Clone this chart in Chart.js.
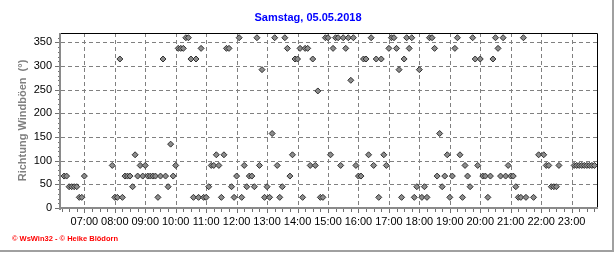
<!DOCTYPE html>
<html>
<head>
<meta charset="utf-8">
<script src="https://cdn.jsdelivr.net/npm/chart.js@4"></script>
<style>
  html, body { margin: 0; padding: 0; background: #fff; }
  canvas { display: block; }
</style>
</head>
<body>
<canvas id="chart" width="616" height="253"></canvas>
<script>
const chartTitle = 'Samstag, 05.05.2018';
const yTitle = 'Richtung Windböen  (°)';
const credits = '© WsWin32 - © Heike Blödorn';

// reading times (HH:MM) and gust directions in degrees
const times = [
  '06:20', '06:25', '06:30', '06:35', '06:40', '06:45', '06:50', '06:55',
  '07:00', '07:55',
  '08:00', '08:05', '08:10', '08:15', '08:20', '08:25', '08:30', '08:35', '08:40', '08:45', '08:50', '08:55',
  '09:00', '09:05', '09:10', '09:15', '09:20', '09:25', '09:30', '09:35', '09:40', '09:45', '09:50', '09:55',
  '10:00', '10:05', '10:10', '10:15', '10:20', '10:25', '10:30', '10:35', '10:40', '10:45', '10:50', '10:55',
  '11:00', '11:05', '11:10', '11:15', '11:20', '11:25', '11:30', '11:35', '11:40', '11:45', '11:50', '11:55',
  '12:00', '12:05', '12:10', '12:15', '12:20', '12:25', '12:30', '12:35', '12:40', '12:45', '12:50', '12:55',
  '13:00', '13:05', '13:10', '13:15', '13:20', '13:25', '13:30', '13:35', '13:40', '13:45', '13:50', '13:55',
  '14:00', '14:05', '14:10', '14:15', '14:20', '14:25', '14:30', '14:35', '14:40', '14:45', '14:50', '14:55',
  '15:00', '15:05', '15:10', '15:15', '15:20', '15:25', '15:30', '15:35', '15:40', '15:45', '15:50', '15:55',
  '16:00', '16:05', '16:10', '16:15', '16:20', '16:25', '16:30', '16:35', '16:40', '16:45', '16:50', '16:55',
  '17:00', '17:05', '17:10', '17:15', '17:20', '17:25', '17:30', '17:35', '17:40', '17:45', '17:50', '17:55',
  '18:00', '18:05', '18:10', '18:15', '18:20', '18:25', '18:30', '18:35', '18:40', '18:45', '18:50', '18:55',
  '19:00', '19:05', '19:10', '19:15', '19:20', '19:25', '19:30', '19:35', '19:40', '19:45', '19:50', '19:55',
  '20:00', '20:05', '20:10', '20:15', '20:20', '20:25', '20:30', '20:35', '20:40', '20:45', '20:50', '20:55',
  '21:00', '21:05', '21:10', '21:15', '21:20', '21:25', '21:30', '21:45', '21:55',
  '22:05', '22:10', '22:15', '22:20', '22:25', '22:30', '22:35',
  '23:05', '23:10', '23:15', '23:20', '23:25', '23:30', '23:35', '23:40', '23:45'
];

const directions = [
  67.5, 67.5, 45, 45, 45, 45, 22.5, 22.5,
  67.5, 90,
  22.5, 22.5, 315, 22.5, 67.5, 67.5, 67.5, 45, 112.5, 67.5, 90, 67.5,
  90, 67.5, 67.5, 67.5, 67.5, 22.5, 67.5, 315, 67.5, 45, 135, 67.5,
  90, 337.5, 337.5, 337.5, 360, 360, 315, 22.5, 315, 22.5, 337.5, 22.5,
  22.5, 45, 90, 90, 112.5, 90, 22.5, 112.5, 337.5, 337.5, 45, 22.5,
  67.5, 360, 22.5, 90, 45, 67.5, 67.5, 45, 360, 90, 292.5, 22.5,
  45, 22.5, 157.5, 360, 90, 22.5, 45, 360, 337.5, 67.5, 112.5, 315,
  315, 337.5, 22.5, 337.5, 337.5, 90, 315, 90, 247.5, 22.5, 22.5, 360,
  360, 112.5, 337.5, 360, 360, 90, 360, 337.5, 360, 270, 360, 90,
  67.5, 67.5, 315, 315, 112.5, 360, 90, 315, 22.5, 315, 112.5, 90,
  337.5, 360, 360, 337.5, 292.5, 22.5, 315, 360, 337.5, 360, 22.5, 45,
  292.5, 22.5, 45, 22.5, 360, 360, 337.5, 67.5, 157.5, 45, 67.5, 112.5,
  22.5, 67.5, 337.5, 360, 112.5, 22.5, 90, 67.5, 45, 360, 315, 90,
  315, 67.5, 67.5, 22.5, 67.5, 315, 360, 337.5, 67.5, 360, 67.5, 90,
  67.5, 67.5, 45, 22.5, 22.5, 360, 22.5, 22.5, 112.5,
  112.5, 90, 90, 45, 45, 45, 90,
  90, 90, 90, 90, 90, 90, 90, 90, 90
];

// axis range in minutes of the day and degrees
const xMin = 374;
const xMax = 1430;
const yMax = 370;

const toMinutes = t => {
  const [h, m] = t.split(':').map(Number);
  return h * 60 + m;
};
const pad = n => String(n).padStart(2, '0');

const decor = {
  id: 'decor',
  beforeDatasetsDraw(chart) {
    const { ctx, chartArea: { left, top, right, bottom }, scales: { x, y } } = chart;
    ctx.save();

    // dashed grid at the major ticks
    ctx.strokeStyle = '#808080';
    ctx.lineWidth = 1;
    ctx.setLineDash([4, 3]);
    ctx.beginPath();
    x.ticks.forEach(t => {
      const px = Math.round(x.getPixelForValue(t.value)) + 0.5;
      ctx.moveTo(px, top);
      ctx.lineTo(px, bottom);
    });
    y.ticks.forEach(t => {
      if (t.value === 0) return;
      const py = Math.round(y.getPixelForValue(t.value)) + 0.5;
      ctx.moveTo(left, py);
      ctx.lineTo(right, py);
    });
    ctx.stroke();
    ctx.setLineDash([]);

    // tick marks
    ctx.strokeStyle = '#707070';
    ctx.beginPath();
    for (let v = 0; v <= 360; v += 10) {
      const py = Math.round(y.getPixelForValue(v)) + 0.5;
      const len = v % 50 === 0 ? 5 : 2;
      ctx.moveTo(left - 1 - len, py);
      ctx.lineTo(left - 1, py);
    }
    for (let m = 375; m < xMax; m += 15) {
      const px = Math.round(x.getPixelForValue(m)) + 0.5;
      const len = m % 60 === 0 ? 4 : 3;
      ctx.moveTo(px, bottom + 1);
      ctx.lineTo(px, bottom + 1 + len);
    }
    ctx.stroke();

    // frame: thin black top/right, thick grey left/bottom
    ctx.strokeStyle = '#000';
    ctx.beginPath();
    ctx.moveTo(left, top + 0.5);
    ctx.lineTo(right + 0.5, top + 0.5);
    ctx.lineTo(right + 0.5, bottom);
    ctx.stroke();
    ctx.fillStyle = '#8a8a8a';
    ctx.fillRect(left - 2, top, 2, bottom - top + 2);
    ctx.fillRect(left - 2, bottom - 1, right - left + 3, 2);

    ctx.restore();
  },
  afterDraw(chart) {
    const { ctx } = chart;
    ctx.save();
    ctx.fillStyle = '#0000ff';
    ctx.font = 'bold 11px "Liberation Sans", Arial, sans-serif';
    ctx.textAlign = 'center';
    ctx.textBaseline = 'middle';
    ctx.fillText(chartTitle, 308, 18);

    ctx.fillStyle = '#ff0000';
    ctx.font = 'bold 7.5px "Liberation Sans", Arial, sans-serif';
    ctx.textAlign = 'left';
    ctx.fillText(credits, 12, 239);

    ctx.fillStyle = '#a0a0a0';
    ctx.fillRect(612, 0, 2, 252);
    ctx.fillRect(0, 250, 614, 2);
    ctx.restore();
  }
};

new Chart(document.getElementById('chart'), {
  type: 'scatter',
  plugins: [ decor ],
  data: {
    datasets: [{
      label: yTitle,
      data: times.map((t, i) => ({ x: toMinutes(t), y: directions[i] })),
      pointStyle: 'rectRot',
      pointRadius: 3,
      pointBorderWidth: 1,
      pointBackgroundColor: '#8c8c8c',
      pointBorderColor: '#303030'
    }]
  },
  options: {
    responsive: false,
    animation: false,
    devicePixelRatio: 1,
    layout: { padding: { left: 0, right: 19, top: 33, bottom: 0 } },
    plugins: {
      legend: { display: false },
      tooltip: { enabled: false }
    },
    scales: {
      x: {
        type: 'linear',
        min: xMin,
        max: xMax,
        afterFit(scale) { scale.height = 45; },
        grid: { display: false, drawTicks: false },
        border: { display: false },
        ticks: {
          stepSize: 60,
          includeBounds: false,
          maxRotation: 0,
          autoSkip: false,
          padding: 7,
          color: '#000',
          font: { family: '"Liberation Sans", Arial, sans-serif', size: 11 },
          callback: v => pad(Math.floor(v / 60)) + ':' + pad(v % 60)
        }
      },
      y: {
        min: 0,
        max: yMax,
        afterFit(scale) { scale.width = 61; },
        grid: { display: false, drawTicks: false },
        border: { display: false },
        title: {
          display: true,
          text: yTitle,
          color: '#808080',
          font: { family: '"Liberation Sans", Arial, sans-serif', size: 11, weight: 'bold' },
          padding: { top: 16, bottom: 0 }
        },
        ticks: {
          stepSize: 50,
          includeBounds: false,
          padding: 9,
          color: '#000',
          font: { family: '"Liberation Sans", Arial, sans-serif', size: 11 }
        }
      }
    }
  }
});
</script>
</body>
</html>
